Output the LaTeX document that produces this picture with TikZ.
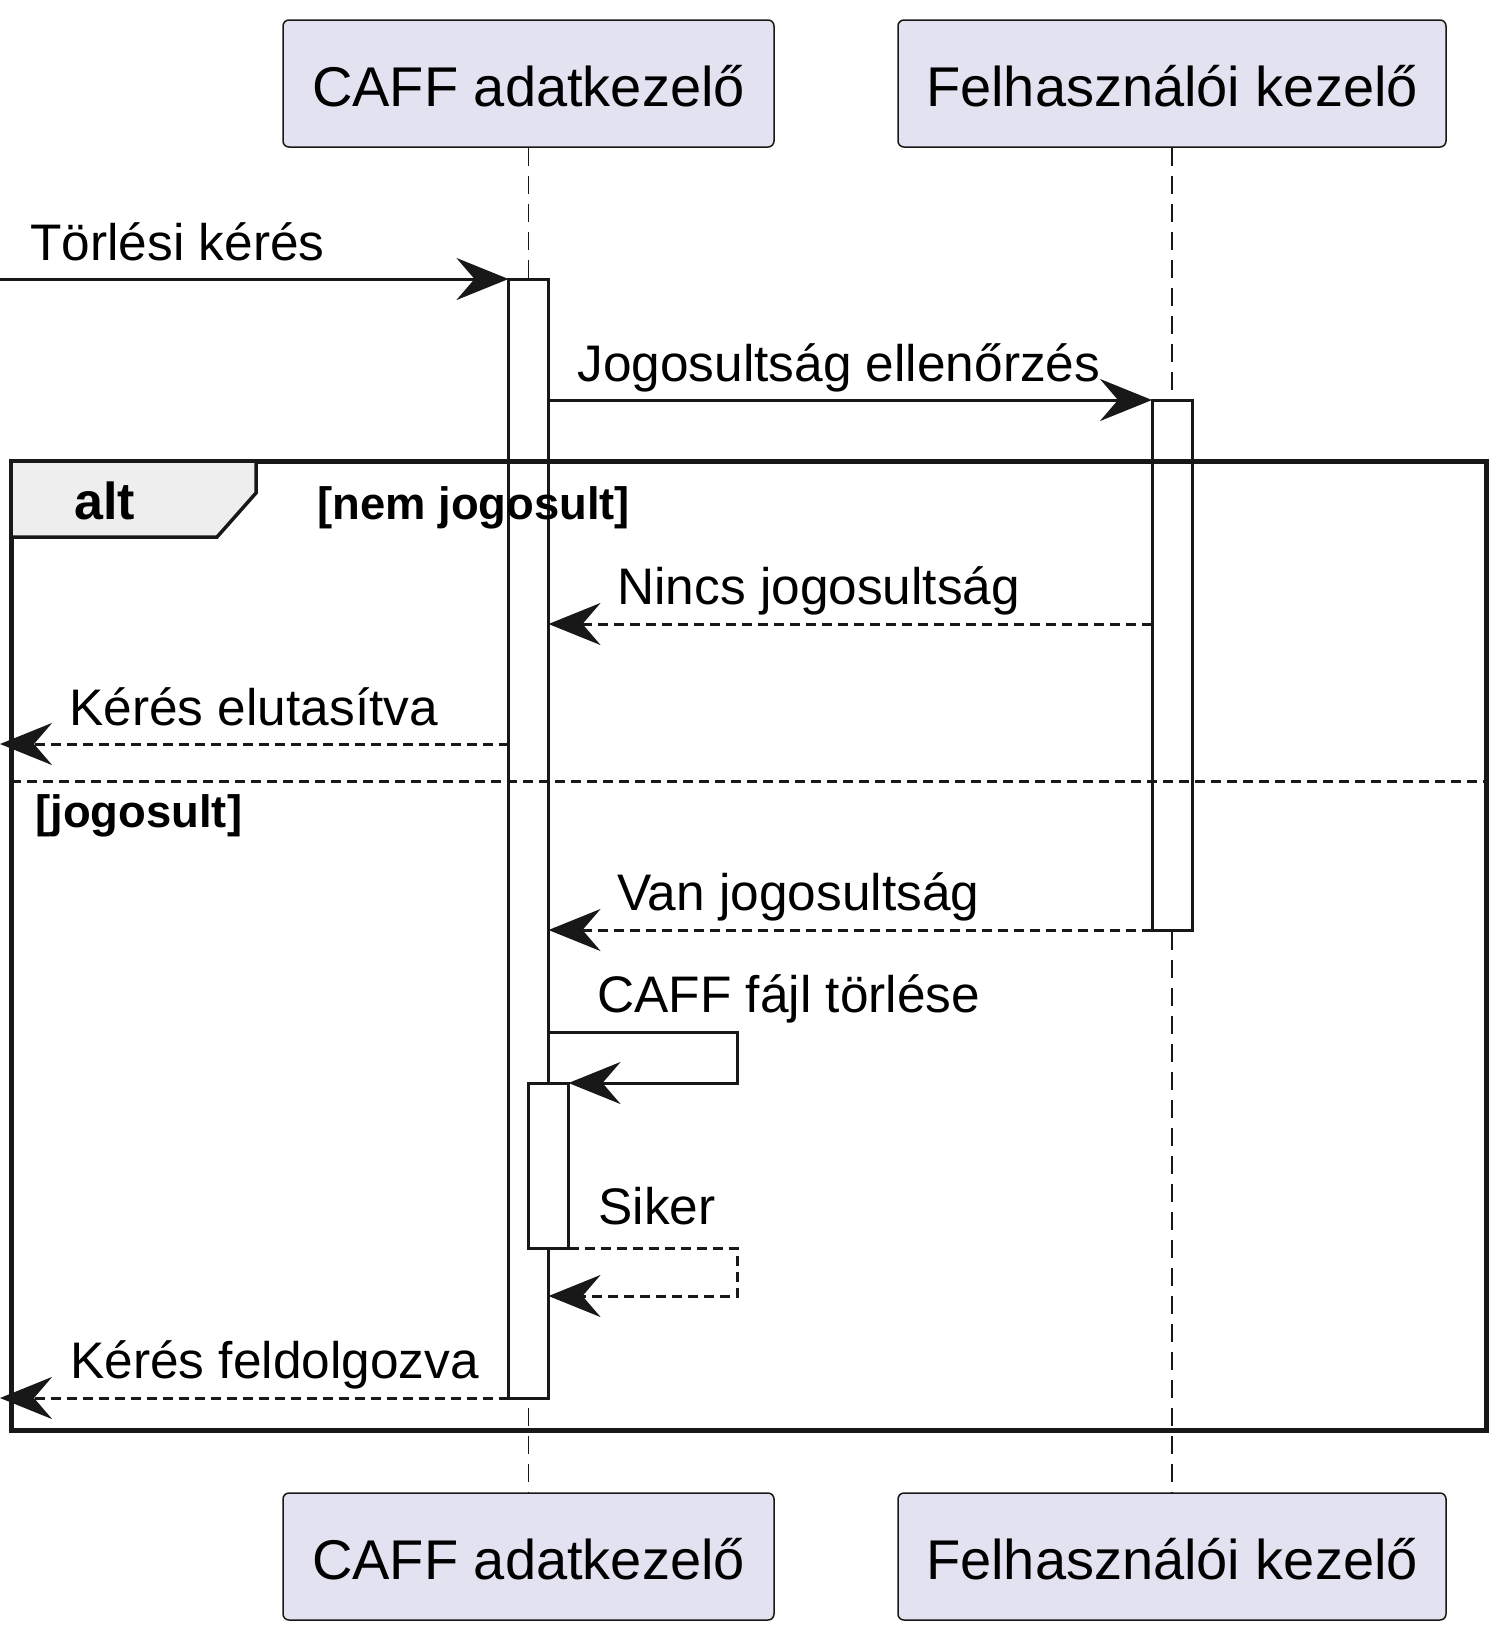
\documentclass[tikz,border=0pt]{standalone}
\usepackage{fontspec}
\setmainfont{Liberation Sans}
\usetikzlibrary{arrows.meta,positioning}
\definecolor{umlLine}{HTML}{181818}
\definecolor{umlPart}{HTML}{E2E2F0}
\definecolor{umlTab}{HTML}{EEEEEE}

\begin{document}
\begin{tikzpicture}[x=0.5pt,y=-0.5pt,
    part/.style={draw=umlLine,line width=0.75pt,fill=umlPart,rounded corners=3pt,minimum height=63.5pt,text height=22.5pt,text depth=0pt,inner sep=0pt,font=\fontsize{28}{34}\selectfont},
    life/.style={umlLine,line width=0.75pt,dash pattern=on 9pt off 5pt},
    act/.style={draw=umlLine,fill=white,line width=1.5pt,minimum width=20pt,inner sep=0pt,outer sep=0pt},
    call/.style={-{Stealth[length=26pt,width=21pt,inset=9pt]},umlLine,line width=1.5pt},
    reply/.style={call,dash pattern=on 5pt off 3pt},
    lbl/.style={anchor=base west,inner sep=0pt,font=\fontsize{25.7}{30}\selectfont},
    guard/.style={anchor=base west,inner sep=0pt,font=\fontsize{22.7}{27}\selectfont\bfseries}]
    \useasboundingbox (0,0) rectangle (1510,1640);
    % participants
    \node[part,minimum width=245.5pt] (caffT) at (528.5,83.5) {CAFF adatkezelő};
    \node[part,minimum width=274pt] (felhT) at (1172,83.5) {Felhasználói kezelő};
    \node[part,minimum width=245.5pt] (caffB) at (528.5,1556.5) {CAFF adatkezelő};
    \node[part,minimum width=274pt] (felhB) at (1172,1556.5) {Felhasználói kezelő};
    \draw[life] (caffT.south) -- (caffB.north);
    \draw[life] (felhT.south) -- (felhB.north);
    % activations
    \node[act,minimum height=559.5pt] (caffAct) at (528.5,838.5) {};
    \node[act,minimum height=265pt] (felhAct) at (1172,665) {};
    \node[act,minimum height=82.5pt] (selfAct) at (548.5,1165.5) {};
    % alt frame
    \draw[umlLine,line width=2.5pt] (11,461) rectangle (1486,1430);
    \draw[umlLine,fill=umlTab,line width=1.75pt,line join=miter] (11,461) -- (256,461) -- (256,493) -- (217,537) -- (11,537) -- cycle;
    \draw[umlLine,line width=1.5pt,dash pattern=on 5pt off 3pt] (11,781) -- (1486,781);
    \node[anchor=base west,inner sep=0pt,font=\fontsize{26}{30}\selectfont\bfseries] (altKw) at (74,519) {alt};
    \node[guard] (g1) at (317,519) {[nem jogosult]};
    \node[guard] (g2) at (35,827) {[jogosult]};
    % messages
    \coordinate (src) at (0,279);
    \coordinate (ans1) at (1152,624);
    \coordinate (out1) at (0,744);
    \coordinate (selfTop) at (737,1032);
    \coordinate (selfBot) at (737,1296);
    \coordinate (out2) at (0,1398);
    \draw[call] (src) -- (caffAct.north west);
    \node[lbl] (m1) at (30,260) {Törlési kérés};
    \draw[call] (caffAct.east |- felhAct.north) -- (felhAct.north west);
    \node[lbl] (m2) at (577,381) {Jogosultság ellenőrzés};
    \draw[reply] (ans1) -- (caffAct.east |- ans1);
    \node[lbl] (m3) at (617,604) {Nincs jogosultság};
    \draw[reply] (caffAct.west |- out1) -- (out1);
    \node[lbl] (m4) at (69,725) {Kérés elutasítva};
    \draw[reply] (felhAct.south west) -- (caffAct.east |- felhAct.south);
    \node[lbl] (m5) at (617,910) {Van jogosultság};
    \draw[call] (caffAct.east |- selfTop) -- (selfTop) |- (selfAct.north east);
    \node[lbl] (m6) at (597,1012) {CAFF fájl törlése};
    \draw[reply] (selfAct.south east) -| (selfBot) -- (caffAct.east |- selfBot);
    \node[lbl] (m7) at (598,1224) {Siker};
    \draw[reply] (caffAct.south west) -- (out2);
    \node[lbl] (m8) at (70,1378) {Kérés feldolgozva};
  \end{tikzpicture}
\end{document}
